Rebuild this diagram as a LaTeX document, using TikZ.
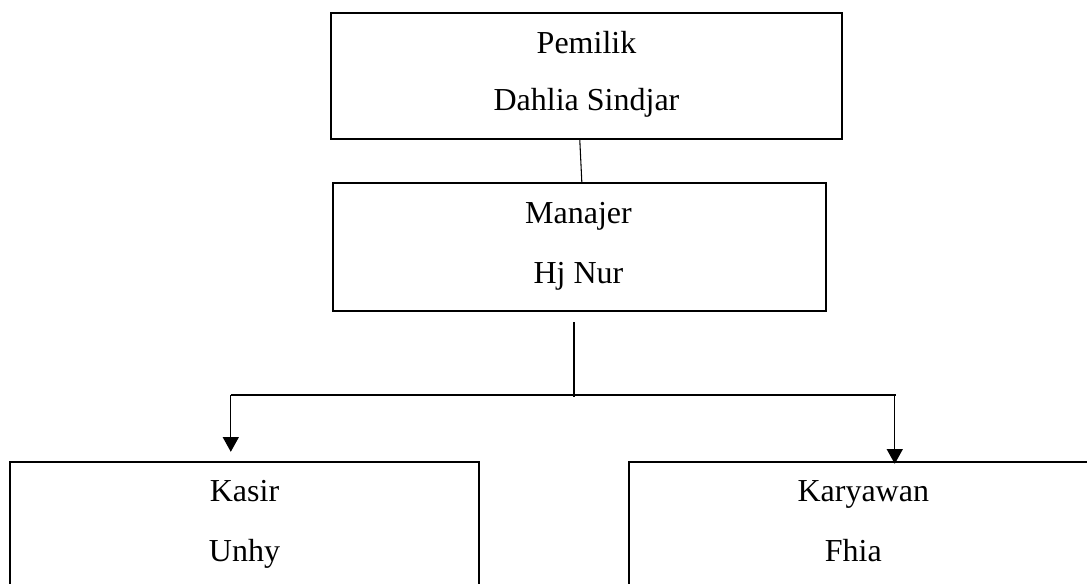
\documentclass[tikz,border=0pt]{standalone}
\usepackage{fontspec}
\setmainfont{Liberation Serif}
\usetikzlibrary{arrows.meta,calc}
\begin{document}
\begin{tikzpicture}[x=0.75pt,y=-0.75pt,
  orgbox/.style={draw, line width=1.8pt, inner sep=0pt, minimum height=94.5pt},
  boxtext/.style={anchor=base, inner sep=0pt, font=\fontsize{24}{28}\selectfont},
  thinlink/.style={line width=0.8pt},
  buslink/.style={line width=1.3pt},
  arrowlink/.style={line width=0.8pt, -{Triangle[width=12pt,length=11pt]}}]
\useasboundingbox (0,0) rectangle (1087,583);

% boxes
\node[orgbox, minimum width=383.25pt] (pemilik) at (586.5,76) {};
\node[orgbox, minimum width=369.75pt, minimum height=96pt] (manajer) at (579.5,247) {};
\node[orgbox, minimum width=351.75pt] (kasir) at (244.5,525) {};
\node[orgbox, minimum width=350pt] (karyawan) at (862.3,525) {};

% box labels
\node[boxtext] (pemilik1) at ($(pemilik.north)+(0,42)$) {Pemilik};
\node[boxtext] (pemilik2) at ($(pemilik.north)+(0,99)$) {Dahlia Sindjar};
\node[boxtext] (manajer1) at ($(manajer.north)+(-1,42)$) {Manajer};
\node[boxtext] (manajer2) at ($(manajer.north)+(-1,102)$) {Hj Nur};
\node[boxtext] (kasir1) at ($(kasir.north)+(0,41)$) {Kasir};
\node[boxtext] (kasir2) at ($(kasir.north)+(0,101)$) {Unhy};
\node[boxtext] (karyawan1) at ($(karyawan.north)+(1,41)$) {Karyawan};
\node[boxtext] (karyawan2) at ($(karyawan.north)+(-9,101)$) {Fhia};

% branch points of the connector tree
\coordinate (drop) at ($(manajer.south west)+(242,10)$);
\coordinate (bus) at ($(manajer.south west)+(242,85)$);
\coordinate (busL) at ($(kasir.north west)+(222,-66)$);
\coordinate (busR) at ($(karyawan.north west)+(268,-66)$);
\coordinate (tipL) at ($(kasir.north west)+(222,-9)$);
\coordinate (tipR) at ($(karyawan.north west)+(267,3)$);

% connectors
\draw[thinlink] ($(pemilik.south west)+(250,0)$) -- ($(manajer.north west)+(250,0)$);
\draw[buslink] (drop) -- (bus);
\draw[buslink] (busL) -- (busR);
\draw[arrowlink] (busL) -- (tipL);
\draw[arrowlink] ($(busR)+(-1,0)$) -- (tipR);
\end{tikzpicture}
\end{document}
